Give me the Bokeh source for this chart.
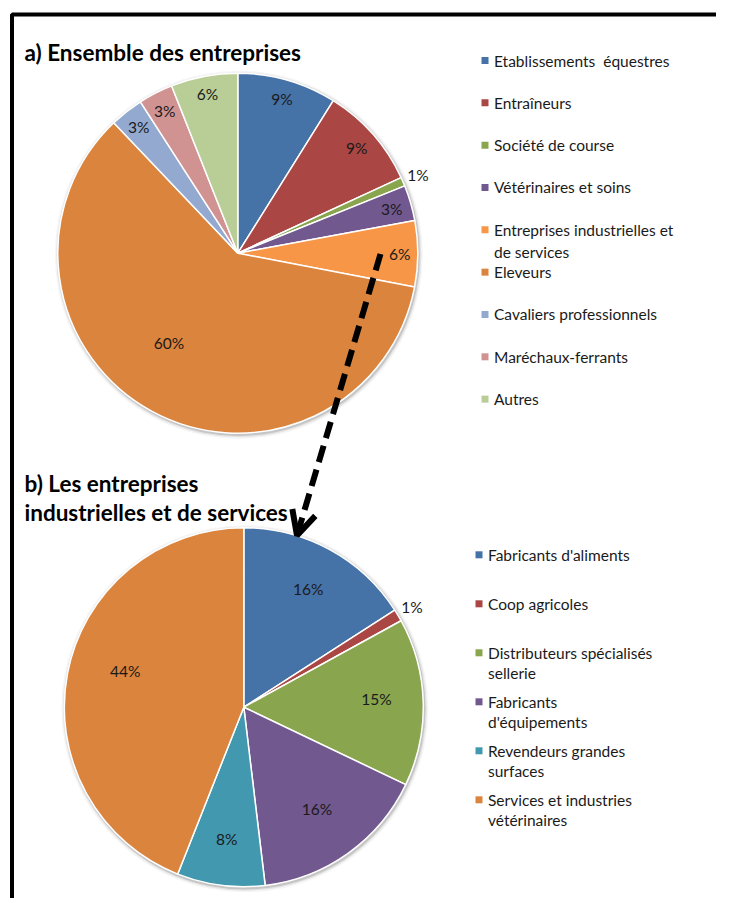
import math
from bokeh.plotting import figure
from bokeh.models import ColumnDataSource, Arrow, OpenHead
from bokeh.core.properties import value
from bokeh.embed import file_html
from bokeh.resources import INLINE

# ---------------- data ----------------
cats_a = ["Etablissements  équestres", "Entraîneurs", "Société de course",
          "Vétérinaires et soins", "Entreprises industrielles et de services",
          "Eleveurs", "Cavaliers professionnels", "Maréchaux-ferrants", "Autres"]
vals_a = [8.9, 9.2, 0.8, 3.2, 5.9, 59.9, 3.0, 3.1, 6.0]
legend_a = ["Etablissements\u00a0 équestres", "Entraîneurs", "Société de course",
            "Vétérinaires et soins", "Entreprises industrielles et\nde services",
            "Eleveurs", "Cavaliers professionnels", "Maréchaux-ferrants", "Autres"]
colors_a = ["#4572A7", "#AA4643", "#89A54E", "#71588F", "#F79646",
            "#DB843D", "#93A9CF", "#D19392", "#B9CD96"]

cats_b = ["Fabricants d'aliments", "Coop agricoles", "Distributeurs spécialisés sellerie",
          "Fabricants d'équipements", "Revendeurs grandes surfaces",
          "Services et industries vétérinaires"]
vals_b = [15.9, 1.1, 15.1, 16.0, 7.9, 44.0]
legend_b = ["Fabricants d'aliments", "Coop agricoles", "Distributeurs spécialisés\nsellerie",
            "Fabricants\nd'équipements", "Revendeurs grandes\nsurfaces",
            "Services et industries\nvétérinaires"]
colors_b = ["#4572A7", "#AA4643", "#89A54E", "#71588F", "#4198AF", "#DB843D"]

title_a = "a) Ensemble des entreprises"
title_b = ["b) Les entreprises", "industrielles et de services"]

# ---------------- layout ----------------
W, H = 716, 898
FONT = "Lato"
p = figure(width=W, height=H, x_range=(0, W), y_range=(-H, 0),
           min_border=0, toolbar_location=None, output_backend="svg",
           x_axis_type=None, y_axis_type=None)
p.grid.visible = False
p.outline_line_color = None
p.background_fill_color = "white"

# frame (cut at right & bottom like the reference)
p.line(x=[11.5, 11.5, 760], y=[-960, -14, -14], line_color="black", line_width=4)


def pie(cx, cy, r, vals, colors, lab_r, lab_da):
    total = sum(vals)
    cum = 0.0
    starts, ends, lx, ly, txt = [], [], [], [], []
    for i, v in enumerate(vals):
        a0 = cum / total
        cum += v
        a1 = cum / total
        starts.append(math.pi / 2 - 2 * math.pi * a0)
        ends.append(math.pi / 2 - 2 * math.pi * a1)
        mid = (a0 + a1) / 2 * 360 + lab_da[i]
        rr = r * lab_r[i]
        lx.append(cx + rr * math.sin(math.radians(mid)))
        ly.append(-(cy - rr * math.cos(math.radians(mid))))
        txt.append(f"{round(v / total * 100)}%")
    # soft shadow
    for dr, al in [(4, 0.08), (2.5, 0.15), (1.2, 0.3)]:
        p.circle(x=[cx + 1], y=[-(cy + 1.5)], radius=r + dr, fill_color="#808080",
                 fill_alpha=al, line_color=None)
    src = ColumnDataSource(dict(start=starts, end=ends, color=colors))
    p.wedge(x=cx, y=-cy, radius=r, start_angle="start", end_angle="end",
            direction="clock", fill_color="color", line_color="white",
            line_width=1.5, source=src)
    p.text(x=lx, y=ly, text=txt, text_font=value(FONT), text_font_size="15.5px",
           text_align="center", text_baseline="middle", text_color="#1a1a1a")


def legend(x0, y0, dy, labels, colors, lh):
    sx, sy, tx, ty, tt = [], [], [], [], []
    for i, lab in enumerate(labels):
        yc = y0 + dy * i
        sx.append(x0)
        sy.append(-yc)
        for j, line in enumerate(lab.split("\n")):
            tx.append(x0 + 9)
            ty.append(-(yc + j * lh))
            tt.append(line)
    p.rect(x=sx, y=sy, width=7, height=7, fill_color=colors, line_color=None)
    p.text(x=tx, y=ty, text=tt, text_font=value(FONT), text_font_size="15.5px",
           text_align="left", text_baseline="middle", text_color="#1a1a1a")


# pie a
lab_r_a = [0.89, 0.88, 1.09, 0.89, 0.9, 0.63, 0.89, 0.89, 0.9]
lab_da_a = [0, 0, 0, 0, 0, 8.7, 0, 0, 0]
pie(237.3, 252.7, 180, vals_a, colors_a, lab_r_a, lab_da_a)
# pie b
lab_r_b = [0.75, 1.09, 0.74, 0.70, 0.74, 0.69]
lab_da_b = [0, 0, -2, 0, 0, 6]
pie(243.3, 706.7, 179.5, vals_b, colors_b, lab_r_b, lab_da_b)

legend(484.5, 60, 42.33, legend_a, colors_a, 21.7)
legend(478.5, 554.3, 49.0, legend_b, colors_b, 20.5)

# titles
p.text(x=[24], y=[-51.5], text=[title_a], text_font=value(FONT), text_font_size="22.5px",
       text_font_style="bold", text_baseline="middle", text_color="black")
p.text(x=[24, 24], y=[-483.3, -511.7], text=title_b, text_font=value(FONT),
       text_font_size="22.5px", text_font_style="bold", text_baseline="middle",
       text_color="black")

# dashed arrow from slice a) "Entreprises" to pie b)
p.add_layout(Arrow(end=OpenHead(size=24, line_width=6, line_color="black"),
                   x_start=380, y_start=-253.5, x_end=296.5, y_end=-535,
                   line_width=6, line_dash="17 8", line_color="black"))

open("out.html", "w").write(file_html(p, INLINE))
